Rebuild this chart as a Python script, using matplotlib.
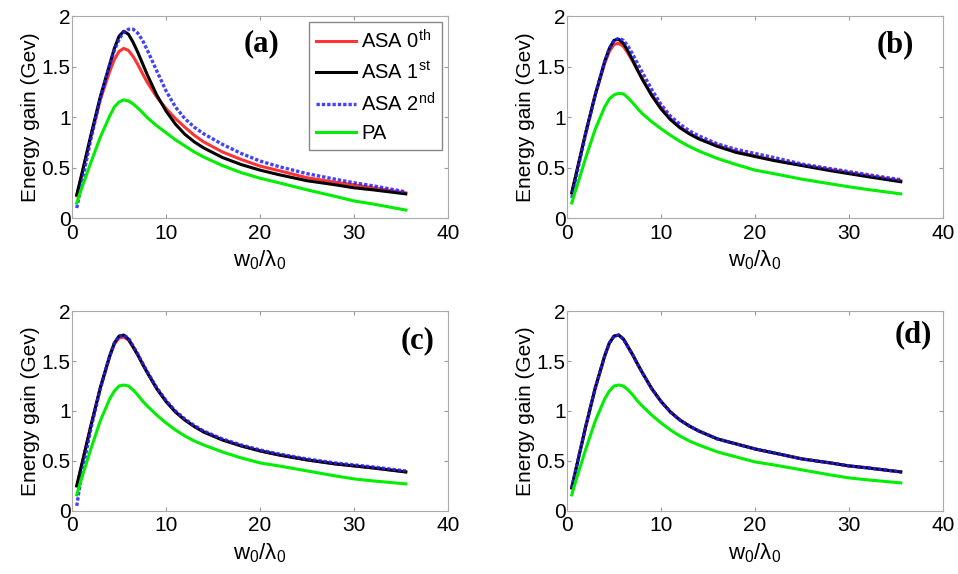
import matplotlib
matplotlib.use('Agg')
import matplotlib.pyplot as plt

plt.rcParams['font.family'] = ['Liberation Sans', 'DejaVu Sans']
plt.rcParams['mathtext.default'] = 'regular'

# x positions (w0/lambda0) where values were read
x = [0.5, 1, 2, 3, 4, 4.5, 5, 5.5, 6, 6.5, 7, 7.5, 8, 9, 10, 11, 12, 13, 14, 16, 18, 20, 22, 25, 28, 30, 32, 35.5]

# panel (a)
a_asa0 = [0.22, 0.42, 0.80, 1.17, 1.45, 1.57, 1.65, 1.68, 1.66, 1.60, 1.52, 1.43, 1.345, 1.20, 1.085, 0.985, 0.90, 0.82, 0.755, 0.655, 0.58, 0.515, 0.47, 0.40, 0.355, 0.33, 0.30, 0.25]
a_asa1 = [0.23, 0.42, 0.82, 1.20, 1.52, 1.68, 1.80, 1.85, 1.82, 1.74, 1.64, 1.53, 1.42, 1.22, 1.06, 0.93, 0.83, 0.755, 0.695, 0.60, 0.53, 0.475, 0.43, 0.37, 0.33, 0.30, 0.28, 0.24]
a_asa2 = [0.10, 0.33, 0.78, 1.18, 1.52, 1.66, 1.77, 1.84, 1.87, 1.87, 1.83, 1.76, 1.665, 1.46, 1.26, 1.10, 0.985, 0.90, 0.835, 0.73, 0.64, 0.565, 0.51, 0.44, 0.385, 0.35, 0.32, 0.26]
a_pa = [0.15, 0.29, 0.55, 0.80, 1.01, 1.10, 1.15, 1.17, 1.16, 1.13, 1.09, 1.045, 0.995, 0.915, 0.845, 0.775, 0.715, 0.655, 0.605, 0.52, 0.45, 0.395, 0.35, 0.28, 0.215, 0.17, 0.14, 0.08]

# panel (b)
b_asa0 = [0.25, 0.45, 0.85, 1.22, 1.53, 1.65, 1.72, 1.73, 1.70, 1.63, 1.55, 1.465, 1.38, 1.225, 1.095, 0.985, 0.90, 0.84, 0.79, 0.72, 0.66, 0.615, 0.575, 0.525, 0.48, 0.45, 0.42, 0.37]
b_asa1 = [0.25, 0.45, 0.85, 1.22, 1.55, 1.68, 1.76, 1.77, 1.73, 1.65, 1.56, 1.465, 1.375, 1.215, 1.08, 0.975, 0.895, 0.835, 0.785, 0.71, 0.65, 0.61, 0.57, 0.52, 0.47, 0.44, 0.41, 0.36]
b_asa2 = [0.20, 0.42, 0.84, 1.22, 1.55, 1.68, 1.76, 1.78, 1.76, 1.70, 1.62, 1.53, 1.445, 1.275, 1.125, 1.01, 0.93, 0.865, 0.815, 0.735, 0.68, 0.64, 0.60, 0.535, 0.49, 0.46, 0.43, 0.38]
b_pa = [0.15, 0.30, 0.60, 0.88, 1.10, 1.18, 1.22, 1.235, 1.23, 1.19, 1.14, 1.085, 1.035, 0.955, 0.885, 0.82, 0.76, 0.71, 0.665, 0.59, 0.53, 0.475, 0.44, 0.385, 0.34, 0.31, 0.283, 0.24]

# panel (c)
c_asa0 = [0.25, 0.45, 0.85, 1.23, 1.54, 1.67, 1.73, 1.74, 1.71, 1.64, 1.56, 1.47, 1.385, 1.225, 1.095, 0.99, 0.91, 0.845, 0.79, 0.71, 0.65, 0.60, 0.56, 0.51, 0.47, 0.45, 0.43, 0.39]
c_asa1 = [0.25, 0.45, 0.85, 1.23, 1.55, 1.68, 1.75, 1.76, 1.72, 1.64, 1.56, 1.47, 1.385, 1.225, 1.095, 0.99, 0.91, 0.845, 0.79, 0.71, 0.65, 0.60, 0.56, 0.51, 0.47, 0.45, 0.43, 0.39]
c_asa2 = [0.05, 0.35, 0.82, 1.22, 1.55, 1.68, 1.75, 1.76, 1.73, 1.65, 1.57, 1.48, 1.395, 1.235, 1.105, 1.00, 0.92, 0.855, 0.80, 0.72, 0.66, 0.61, 0.57, 0.52, 0.48, 0.46, 0.44, 0.40]
c_pa = [0.16, 0.32, 0.62, 0.90, 1.12, 1.20, 1.25, 1.26, 1.25, 1.21, 1.16, 1.10, 1.05, 0.96, 0.88, 0.81, 0.75, 0.70, 0.66, 0.59, 0.53, 0.48, 0.45, 0.40, 0.35, 0.32, 0.30, 0.27]

# panel (d)
d_asa0 = [0.23, 0.44, 0.85, 1.23, 1.55, 1.68, 1.75, 1.76, 1.72, 1.64, 1.56, 1.47, 1.385, 1.225, 1.095, 0.99, 0.91, 0.85, 0.80, 0.72, 0.67, 0.62, 0.58, 0.52, 0.48, 0.45, 0.43, 0.39]
d_asa1 = d_asa0
d_asa2 = d_asa0
d_pa = [0.16, 0.32, 0.62, 0.90, 1.12, 1.20, 1.25, 1.26, 1.25, 1.21, 1.16, 1.10, 1.05, 0.96, 0.88, 0.81, 0.75, 0.70, 0.66, 0.59, 0.54, 0.49, 0.46, 0.41, 0.36, 0.33, 0.31, 0.28]

panels = [
    ('(a)', a_asa0, a_asa1, a_asa2, a_pa, [0.0752, 0.620, 0.3925, 0.352], (0.505, 0.865)),
    ('(b)', b_asa0, b_asa1, b_asa2, b_pa, [0.5919, 0.620, 0.3925, 0.352], (0.872, 0.86)),
    ('(c)', c_asa0, c_asa1, c_asa2, c_pa, [0.0752, 0.110, 0.3925, 0.348], (0.92, 0.85)),
    ('(d)', d_asa0, d_asa1, d_asa2, d_pa, [0.5919, 0.110, 0.3925, 0.348], (0.92, 0.88)),
]

fig = plt.figure(figsize=(9.58, 5.74), dpi=100)

for label, asa0, asa1, asa2, pa, pos, lpos in panels:
    ax = fig.add_axes(pos)
    ax.plot(x, asa0, color='#ff3333', lw=2.2, label='ASA 0$^{th}$')
    ax.plot(x, asa1, color='black', lw=2.2, label='ASA 1$^{st}$')
    ax.plot(x, asa2, color='#2020ff', lw=2.4, ls=(0, (1, 0.6)), alpha=0.85, label='ASA 2$^{nd}$')
    ax.plot(x, pa, color='#00ee00', lw=2.2, label='PA')
    ax.set_xlim(0, 40)
    ax.set_ylim(0, 2)
    ax.set_xticks([0, 10, 20, 30, 40])
    ax.set_yticks([0, 0.5, 1, 1.5, 2])
    ax.set_yticklabels(['0', '0.5', '1', '1.5', '2'])
    ax.tick_params(direction='in', labelsize=15, length=3, color='#999999', top=True, right=True, pad=1)
    ax.tick_params(axis='x', pad=4)
    for s in ax.spines.values():
        s.set_color('#aaaaaa')
    ax.set_xlabel('w$_0$/λ$_0$', fontsize=16, labelpad=4)
    ax.set_ylabel('Energy gain (Gev)', fontsize=15, labelpad=1)
    ax.text(lpos[0], lpos[1], label, transform=ax.transAxes, ha='center', va='center',
            fontsize=22, fontweight='bold', family='Liberation Serif')
    if label == '(a)':
        leg = ax.legend(loc='upper right', fontsize=14.5, fancybox=False, framealpha=1,
                        handlelength=2.0, borderpad=0.35, labelspacing=0.45, handletextpad=0.25,
                        borderaxespad=0.0, bbox_to_anchor=(0.985, 0.97))
        leg.get_frame().set_edgecolor('#888888')

plt.savefig('out.png', dpi=100)
